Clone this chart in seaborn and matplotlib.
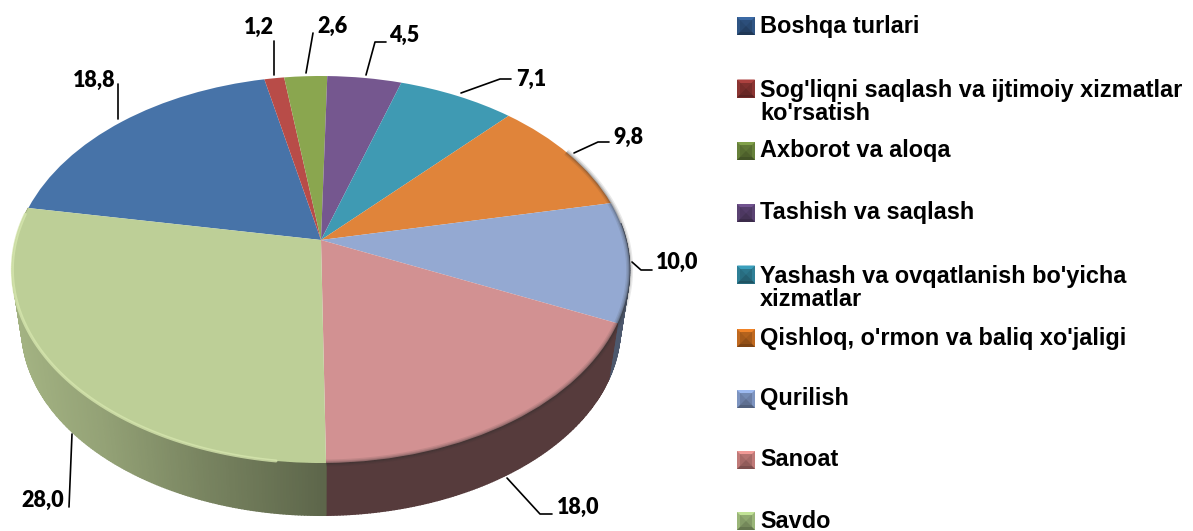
import numpy as np
import matplotlib
matplotlib.use("Agg")
import matplotlib.pyplot as plt
import seaborn as sns
from matplotlib.transforms import Transform
from matplotlib.colors import to_rgb

# Data
categories = ["Boshqa turlari", "Sog'liqni saqlash va ijtimoiy xizmatlar\nko'rsatish", "Axborot va aloqa",
              "Tashish va saqlash", "Yashash va ovqatlanish bo'yicha\nxizmatlar", "Qishloq, o'rmon va baliq xo'jaligi",
              "Qurilish", "Sanoat", "Savdo"]
values = [18.8, 1.2, 2.6, 4.5, 7.1, 9.8, 10.0, 18.0, 28.0]
value_labels = ["18,8", "1,2", "2,6", "4,5", "7,1", "9,8", "10,0", "18,0", "28,0"]
slice_colors = ["#4773a8", "#b84c48", "#8aa64f", "#75578f", "#3f9ab3", "#e0843a", "#94a9d2", "#d29192", "#bdcf97"]
legend_colors = ["#2f5483", "#8a3432", "#66803a", "#5a4272", "#2f7f96", "#c0691f", "#7d94c0", "#c07a78", "#9ab578"]

sns.set_theme(style="white")
palette = sns.color_palette(slice_colors)

# Layout in pixels
CX, CY, RX, RY, K = 321, 240, 305, 189, 0.1525
START = 280  # degrees clockwise from 12 o'clock
label_pos = [(94, 80), (259, 27), (332, 26), (404, 35), (531, 79), (628, 137), (677, 262), (578, 507), (43, 500)]
leaders = [[(118, 84), (118, 119)], [(274, 41), (274, 75)], [(313, 33), (306, 73)],
           [(366, 75), (375, 42), (386, 42)], [(461, 93), (500, 79), (511, 79)],
           [(574, 153), (598, 142), (609, 142)], [(632, 262), (641, 270), (652, 270)],
           [(507, 478), (540, 514), (552, 514)], [(72, 434), (69, 507)]]
legend_y = [26, 102, 151, 213, 288, 338, 399, 460, 521]


def project(x, y):
    d = 1 + K * y
    return CX + RX * x / d, CY - RY * y / d


class Perspective(Transform):
    input_dims = output_dims = 2
    is_separable = False

    def transform_non_affine(self, values):
        xs, ys = project(values[:, 0], values[:, 1])
        return np.column_stack([xs, ys])


def rim(deg):
    t = np.radians(deg)
    return project(np.sin(t), np.cos(t))


def base(deg):
    x, y = rim(deg)
    return CX + (x - CX) * 0.97, y * 0.97 + 0.03 * CY + 59


def side_shade(i, x):
    if i == 8:
        return np.interp(x, [18, 100, 200, 325], [0.86, 0.78, 0.64, 0.49])
    if i == 7:
        return 0.41
    return 0.52


fig, ax = plt.subplots(figsize=(11.93, 5.31), dpi=100)
fig.subplots_adjust(0, 0, 1, 1)

# Side of the disc, only the last three slices show it
edges = START + np.cumsum([0] + values) * 3.6
for i in range(6, len(values)):
    steps = np.arange(edges[i], edges[i + 1] + 0.5, 0.5)
    steps[-1] = edges[i + 1]
    for a, b in zip(steps[:-1], steps[1:]):
        mid = (a + b) / 2 % 360
        if mid < 85 or mid > 285:
            continue
        xa, ya = rim(a)
        xb, yb = rim(b)
        xc, yc = base(b)
        xd, yd = base(a)
        c = np.array(to_rgb(palette[i])) * side_shade(i, (xa + xb) / 2)
        ax.fill([xa, xb, xc, xd], [ya, yb, yc, yd], color=c, lw=1.0)

# Top of the disc
wedges, _ = ax.pie(values, colors=palette, startangle=90 - START, counterclock=False,
                   wedgeprops={"linewidth": 0})
persp = Perspective()
for w in wedges:
    w.set_transform(persp + ax.transData)

# Soft dark edge on the right and bottom, light band on the Savdo slice
arc = np.linspace(60, edges[8] - 360, 120)
xs, ys = rim(arc)
for lw, alpha in [(5, 0.10), (3, 0.14), (1.5, 0.18)]:
    ax.plot(xs, ys, color="#2b2b2b", lw=lw, alpha=alpha, solid_capstyle="butt")

arc = np.linspace(edges[8] - 360 + 8, edges[9] - 360 - 2, 80)
xs, ys = rim(arc)
ax.plot(xs, ys, color="#d6e6ae", lw=2.2, alpha=0.8, solid_capstyle="round")

ax.set_aspect("auto")
ax.set_xlim(0, 1193)
ax.set_ylim(531, 0)
ax.set_axis_off()

# Value labels with leader lines
for txt, pos, line in zip(value_labels, label_pos, leaders):
    ax.text(pos[0], pos[1], txt, fontsize=15.5, fontweight="heavy", family="Lato", color="black",
            ha="center", va="center")
    lx, ly = zip(*line)
    ax.plot(lx, ly, color="black", lw=1.2)

# Legend
for name, col, y in zip(categories, legend_colors, legend_y):
    n_lines = name.count("\n") + 1
    ty = y - 13.5 * (n_lines - 1)
    s = 9
    mx = 746
    c = np.array(to_rgb(col))
    ax.fill([mx - s, mx + s, mx + s, mx - s], [ty - s, ty - s, ty + s, ty + s], color=c, lw=0)
    ax.fill([mx - s, mx + s, mx], [ty - s, ty - s, ty], color=np.clip(c * 1.25, 0, 1), lw=0)
    ax.fill([mx - s, mx + s, mx], [ty + s, ty + s, ty], color=c * 0.65, lw=0)
    ax.fill([mx - s + 3, mx + s - 3, mx + s - 3, mx - s + 3], [ty - s + 3, ty - s + 3, ty + s - 3, ty + s - 3],
            color=c * 0.8, lw=0, alpha=0.7)
    ax.text(760, y, name, fontsize=16.9, fontweight="bold", family="Liberation Sans", color="black",
            ha="left", va="center", linespacing=1.0)

fig.savefig("out.png", dpi=100)
